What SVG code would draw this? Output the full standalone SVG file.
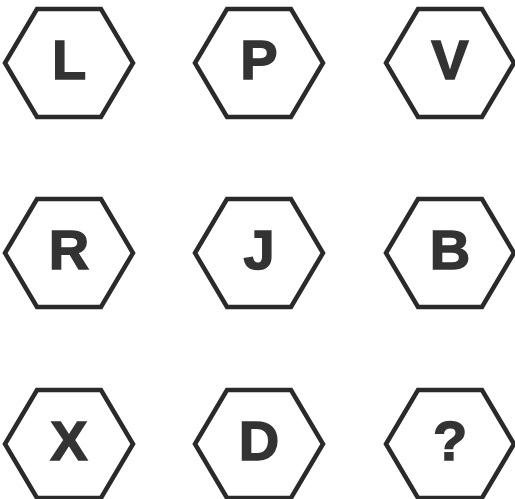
<svg xmlns="http://www.w3.org/2000/svg" width="515" height="499" viewBox="0 0 515 499">
<defs>
<style>
.hex{fill:#fff;stroke:#2a2a2a;stroke-width:4.5;stroke-linejoin:miter}
.lbl{font-family:"Liberation Sans",Arial,sans-serif;font-weight:bold;font-size:56px;fill:#333;stroke:#333;stroke-width:1.5;text-anchor:middle}
</style>
<polygon id="h" class="hex" points="-64,0 -32,-54 32,-54 64,0 32,54 -32,54"/>
</defs>
<rect width="515" height="499" fill="#fff"/>
<g id="connectors"/>
<g id="n1" transform="translate(69,63)"><use href="#h"/><text class="lbl" x="0" y="16">L</text></g>
<g id="n2" transform="translate(259,63)"><use href="#h"/><text class="lbl" x="0" y="16">P</text></g>
<g id="n3" transform="translate(450,63)"><use href="#h"/><text class="lbl" x="0" y="16">V</text></g>
<g id="n4" transform="translate(69,253)"><use href="#h"/><text class="lbl" x="0" y="16">R</text></g>
<g id="n5" transform="translate(259,253)"><use href="#h"/><text class="lbl" x="0" y="16">J</text></g>
<g id="n6" transform="translate(450,253)"><use href="#h"/><text class="lbl" x="0" y="16">B</text></g>
<g id="n7" transform="translate(69,444)"><use href="#h"/><text class="lbl" x="0" y="16">X</text></g>
<g id="n8" transform="translate(259,444)"><use href="#h"/><text class="lbl" x="0" y="16">D</text></g>
<g id="n9" transform="translate(450,444)"><use href="#h"/><text class="lbl" x="0" y="16">?</text></g>
</svg>
